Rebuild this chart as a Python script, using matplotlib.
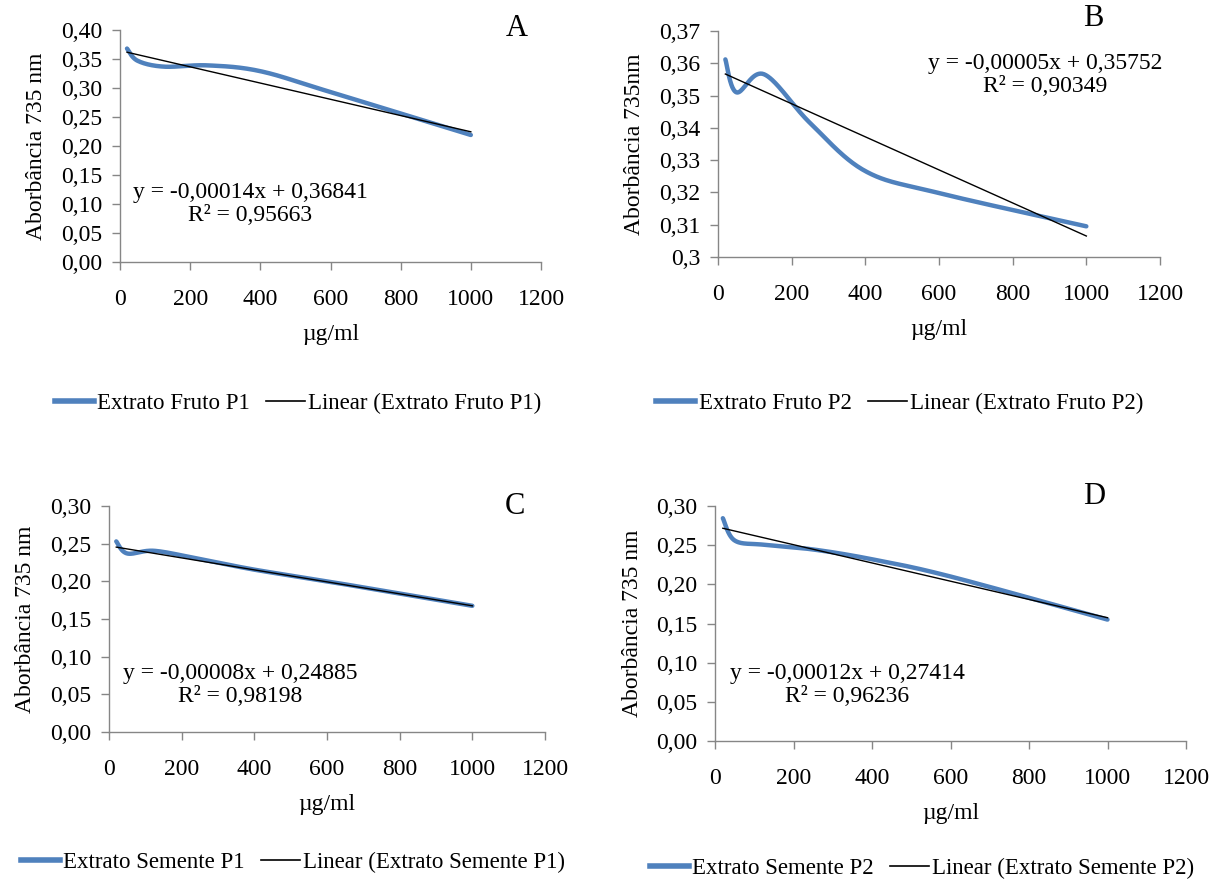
import numpy as np
import matplotlib
matplotlib.use("Agg")
import matplotlib.pyplot as plt
from matplotlib.lines import Line2D

plt.rcParams['font.family'] = ['Liberation Serif', 'DejaVu Serif']

# concentrations (ug/ml)
conc = [20, 50, 125, 250, 400, 600, 1000]

# absorbance at 735 nm for each extract
fruto_p1 = [0.368, 0.347, 0.3368, 0.339, 0.329, 0.293, 0.219]
fruto_p2 = [0.3612, 0.351, 0.3566, 0.3415, 0.3266, 0.3198, 0.3095]
semente_p1 = [0.253, 0.237, 0.2405, 0.2295, 0.2155, 0.200, 0.1675]
semente_p2 = [0.2844, 0.256, 0.2505, 0.2445, 0.232, 0.210, 0.155]

# linear trendlines (slope, intercept) as drawn
trend_slope = [-0.00014, -0.0000512, -0.0000795, -0.0001165]
trend_icpt = [0.3645, 0.3577, 0.2470, 0.2739]

eq_text = ["y = -0,00014x + 0,36841\nR² = 0,95663",
           "y = -0,00005x + 0,35752\nR² = 0,90349",
           "y = -0,00008x + 0,24885\nR² = 0,98198",
           "y = -0,00012x + 0,27414\nR² = 0,96236"]
series_names = ["Extrato Fruto P1", "Extrato Fruto P2",
                "Extrato Semente P1", "Extrato Semente P2"]
panel_letters = ["A", "B", "C", "D"]
ylabels = ["Aborbância 735 nm", "Aborbância 735nm",
           "Aborbância 735 nm", "Aborbância 735 nm"]

W, H = 1225, 882
blue = '#4F81BD'
gray = '#868686'
fs = 17


def excel_smooth(x, y, n=40):
    # cubic bezier through the points, like Excel's "smoothed line"
    pts = np.column_stack([x, y]).astype(float)
    P = np.vstack([pts[0], pts, pts[-1]])
    segs = []
    t = np.linspace(0, 1, n)[:, None]
    for i in range(1, len(P) - 2):
        p0, p1, p2, p3 = P[i - 1], P[i], P[i + 1], P[i + 2]
        c1 = p1 + (p2 - p0) / 6
        c2 = p2 - (p3 - p1) / 6
        seg = (1 - t) ** 3 * p1 + 3 * (1 - t) ** 2 * t * c1 + 3 * (1 - t) * t ** 2 * c2 + t ** 3 * p2
        segs.append(seg)
    s = np.vstack(segs)
    return s[:, 0], s[:, 1]


def fmt_comma(v, dec):
    return f"{v:.{dec}f}".replace(".", ",")


fig = plt.figure(figsize=(W / 100, H / 100), dpi=100)

# axes boxes in pixels: x0, x1, ytop, ybottom
boxes = [(120, 541, 30, 262), (718, 1160, 31, 257),
         (109, 545, 506, 732), (715, 1186, 506, 741)]
ylims = [(0, 0.40), (0.30, 0.37), (0, 0.30), (0, 0.30)]
ysteps = [0.05, 0.01, 0.05, 0.05]
data = [fruto_p1, fruto_p2, semente_p1, semente_p2]

letter_pos = [(517, 28), (1093, 19), (515, 507), (1094, 497)]
eq_pos = [(250, 204), (1045, 75), (240, 685), (847, 685)]
leg_pos = [(298, 403), (900, 403), (293, 862), (922, 868)]

for i in range(4):
    x0, x1, yt, yb = boxes[i]
    ax = fig.add_axes([x0 / W, 1 - yb / H, (x1 - x0) / W, (yb - yt) / H])
    xs, ys = excel_smooth(conc, data[i])
    ax.plot(xs, ys, color=blue, lw=3.2, solid_capstyle='round', zorder=2)
    xt = np.array([conc[0], conc[-1]])
    ax.plot(xt, trend_icpt[i] + trend_slope[i] * xt, color='black', lw=1.0, zorder=3)

    ax.set_xlim(0, 1200)
    ax.set_ylim(*ylims[i])
    ax.set_xticks(np.arange(0, 1201, 200))
    yt_vals = np.arange(ylims[i][0], ylims[i][1] + 1e-9, ysteps[i])
    ax.set_yticks(yt_vals)
    if i == 1:
        # Excel general format: 0,3 instead of 0,30
        ax.set_yticklabels([fmt_comma(v, 2).rstrip('0') for v in yt_vals])
    else:
        ax.set_yticklabels([fmt_comma(v, 2) for v in yt_vals])

    for s in ['top', 'right']:
        ax.spines[s].set_visible(False)
    for s in ['left', 'bottom']:
        ax.spines[s].set_color(gray)
        ax.spines[s].set_linewidth(1.0)
    ax.tick_params(axis='both', direction='out', length=5.5, width=1.0,
                   color=gray, labelsize=fs, labelcolor='black')
    ax.tick_params(axis='x', pad=14)
    ax.tick_params(axis='y', pad=7)
    ax.set_xlabel("µg/ml", fontsize=fs, labelpad=10)
    ax.set_ylabel(ylabels[i], fontsize=fs, labelpad=10)

    lx, ly = letter_pos[i]
    fig.text(lx / W, 1 - ly / H, panel_letters[i], fontsize=22, ha='center', va='center')
    ex, ey = eq_pos[i]
    fig.text(ex / W, 1 - ey / H, eq_text[i], fontsize=fs, ha='center', va='center',
             multialignment='center', linespacing=1.1)

    handles = [Line2D([], [], color=blue, lw=4),
               Line2D([], [], color='black', lw=1.2)]
    labels = [series_names[i], "Linear (" + series_names[i] + ")"]
    gx, gy = leg_pos[i]
    fig.legend(handles, labels, loc='center', bbox_to_anchor=(gx / W, 1 - gy / H),
               ncol=2, frameon=False, fontsize=16.5, handlelength=1.7,
               handletextpad=0.15, columnspacing=0.7)

fig.savefig("out.png", dpi=100)
